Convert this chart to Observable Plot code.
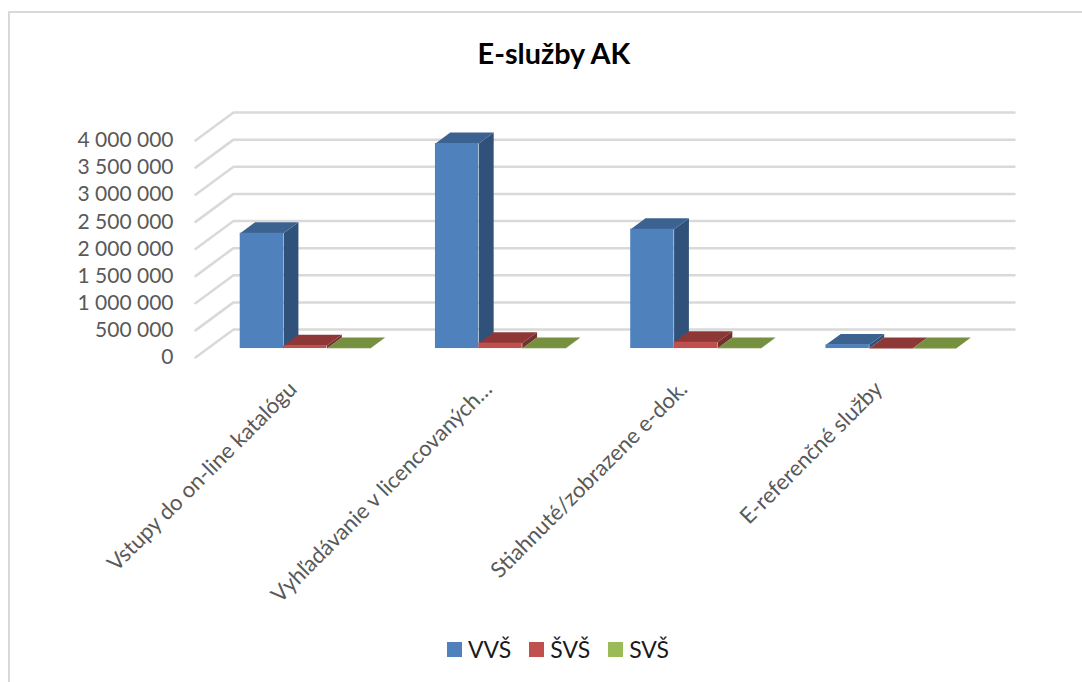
<!DOCTYPE html>
<html>
<head>
<meta charset="utf-8">
<script src="https://cdn.jsdelivr.net/npm/d3@7"></script>
<script src="https://cdn.jsdelivr.net/npm/@observablehq/plot@0.6"></script>
<style>
html,body{margin:0;padding:0;background:#fff;}
#frame{position:relative;width:1082px;height:682px;overflow:hidden;font-family:Lato,"Open Sans",sans-serif;}
#frame:before{content:"";position:absolute;left:8px;top:11px;width:1300px;height:900px;border:2px solid #d9d9d9;box-sizing:border-box;pointer-events:none;}
#title{height:90px;box-sizing:border-box;padding:36px 0 0 26px;text-align:center;font-weight:700;font-size:28.8px;line-height:34px;color:#000;}
#legend{display:flex;align-items:center;height:58px;padding-left:447px;font-size:23px;color:#1a1a1a;}
#legend i{display:block;width:15px;height:15px;margin-right:6px;}
#legend span{display:block;margin-right:18px;}
svg{display:block;}
</style>
</head>
<body>
<div id="frame">
<div id="title">E-služby AK</div>
<div id="chart"></div>
<div id="legend"></div>
</div>
<script>
const categories = ["Vstupy do on-line katalógu", "Vyhľadávanie v licencovaných…", "Stiahnuté/zobrazene e-dok.", "E-referenčné služby"];
const vvs = [2125000, 3780000, 2200000, 68000];
const svs = [55000, 98000, 116000, 3000];
const ssv = [4000, 4000, 4000, 3000];
const seriesNames = ["VVŠ", "ŠVŠ", "SVŠ"];
const yTicks = [0, 500000, 1000000, 1500000, 2000000, 2500000, 3000000, 3500000, 4000000];

const frontColors = ["#4f81bd", "#c0504d", "#9bbb59"];
const sideColors = ["#30527a", "#74302e", "#5e7432"];
const topColors = ["#3c6290", "#8d3836", "#76903f"];

// 3D projection constants: depth offset in data units
const depthX = 0.1946, depthY = 516000;
const barW = 1 / 4.5, gap = 0.75 / 4.5;
const dFront = 0.32, dBack = 0.71;
const px = (cx, d) => cx + depthX * d;
const py = (v, d) => v + depthY * d;

const seriesValues = [vvs, svs, ssv];
const marks = [];

// back-wall gridlines with left-wall diagonals
const grid = yTicks.flatMap(t => [
  {t, x: px(0, 0), y: py(t, 0)},
  {t, x: px(0, 1), y: py(t, 1)},
  {t, x: px(4, 1), y: py(t, 1)}
]);
marks.push(Plot.line(grid, {x: "x", y: "y", z: "t", stroke: "#d9d9d9", strokeWidth: 2.5, curve: "linear"}));

seriesValues.forEach((vals, s) => {
  const rows = vals.map((v, i) => ({i, v, a: i + gap + s * barW, b: i + gap + (s + 1) * barW}));
  const side = rows.flatMap(r => [
    {id: r.i, x: px(r.b, dFront), y: py(0, dFront)},
    {id: r.i, x: px(r.b, dBack), y: py(0, dBack)},
    {id: r.i, x: px(r.b, dBack), y: py(r.v, dBack)},
    {id: r.i, x: px(r.b, dFront), y: py(r.v, dFront)}
  ]);
  const top = rows.flatMap(r => [
    {id: r.i, x: px(r.a, dFront), y: py(r.v, dFront)},
    {id: r.i, x: px(r.b, dFront), y: py(r.v, dFront)},
    {id: r.i, x: px(r.b, dBack), y: py(r.v, dBack)},
    {id: r.i, x: px(r.a, dBack), y: py(r.v, dBack)}
  ]);
  marks.push(
    Plot.line(side, {x: "x", y: "y", z: "id", fill: sideColors[s], stroke: "none", curve: "linear"}),
    Plot.line(top, {x: "x", y: "y", z: "id", fill: topColors[s], stroke: "none", curve: "linear"}),
    Plot.rect(rows, {
      x1: r => px(r.a, dFront), x2: r => px(r.b, dFront),
      y1: () => py(0, dFront), y2: r => py(r.v, dFront),
      fill: frontColors[s]
    })
  );
});

marks.push(
  Plot.axisY({
    ticks: yTicks,
    tickSize: 0,
    tickPadding: 22,
    label: null,
    fontSize: 21,
    color: "#595959",
    fill: "#595959",
    tickFormat: d => d3.format(",")(d).replace(/,/g, " ")
  }),
  Plot.text(categories, {
    x: (d, i) => i + 0.5,
    y: () => 0,
    text: d => d,
    rotate: -45,
    textAnchor: "end",
    fontSize: 22,
    fill: "#595959",
    dy: 28,
    lineWidth: Infinity
  })
);

const chart = Plot.plot({
  width: 1082,
  height: 530,
  marginTop: 22,
  marginBottom: 263,
  marginLeft: 195,
  marginRight: 68,
  x: {domain: [0, 4 + depthX], axis: null},
  y: {domain: [0, 4000000 + depthY], axis: null},
  style: {fontFamily: "Lato, 'Open Sans', sans-serif", background: "transparent"},
  marks
});
document.getElementById("chart").appendChild(chart);

const legend = document.getElementById("legend");
seriesNames.forEach((n, i) => {
  const sw = document.createElement("i");
  sw.style.background = frontColors[i];
  const t = document.createElement("span");
  t.textContent = n;
  legend.append(sw, t);
});
</script>
</body>
</html>
